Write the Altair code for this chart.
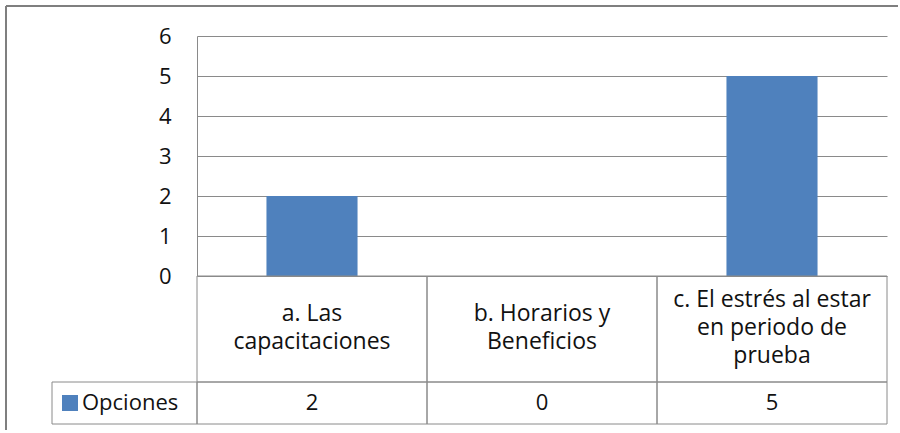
import altair as alt
import pandas as pd

# Chart values
categories = [
    "a. Las\ncapacitaciones",
    "b. Horarios y\nBeneficios",
    "c. El estrés al estar\nen periodo de\nprueba",
]
values = [2, 0, 5]
series_names = ["Opciones"]
y_ticks = [0, 1, 2, 3, 4, 5, 6]

# Styling
FONT = "Open Sans"
TEXT_SIZE = 22
CAT_TEXT_SIZE = 23
LINE_HEIGHT = 28
TEXT_COLOR = "#111111"
BAR_COLOR = "#4F81BD"
LINE_COLOR = "#8A8A8A"
FRAME_COLOR = "#7F7F7F"

# Layout (pixels)
LEFT_W = 145
PLOT_W = 690
PLOT_H = 240
CAT_ROW_H = 106
VAL_ROW_H = 42

df = pd.DataFrame({"category": categories, "value": values})
series_df = pd.DataFrame({"series": series_names})
frame_df = pd.DataFrame({"k": [0]})

bar_x = alt.X(
    "category:N", sort=categories, axis=None,
    scale=alt.Scale(paddingInner=0.604, paddingOuter=0.302),
)
cell_x = alt.X(
    "category:N", sort=categories, axis=None,
    scale=alt.Scale(paddingInner=0, paddingOuter=0),
)

# Outer frame of the chart object
frame_top = alt.Chart(frame_df).mark_rule(color=FRAME_COLOR, strokeWidth=2).encode(
    x=alt.value(-46), x2=alt.value(846), y=alt.value(-30)
)
frame_left = alt.Chart(frame_df).mark_rule(color=FRAME_COLOR, strokeWidth=2).encode(
    x=alt.value(-46), y=alt.value(-30), y2=alt.value(394)
)
corner = alt.layer(frame_top, frame_left).properties(width=LEFT_W, height=PLOT_H)

# Column chart
bars = alt.Chart(df).mark_bar(color=BAR_COLOR).encode(
    x=bar_x,
    y=alt.Y(
        "value:Q",
        scale=alt.Scale(domain=[0, 6], nice=False),
        axis=alt.Axis(
            values=y_ticks, title=None, grid=True, gridColor=LINE_COLOR,
            gridWidth=1, domain=True, domainColor=LINE_COLOR, domainWidth=1,
            ticks=False, labelPadding=26, labelFont=FONT,
            labelFontSize=TEXT_SIZE, labelColor=TEXT_COLOR,
        ),
    ),
).properties(width=PLOT_W, height=PLOT_H)

spacer = alt.Chart(frame_df).mark_text().encode(
    text=alt.value("")
).properties(width=LEFT_W, height=CAT_ROW_H)

# Data table: category row (multi-line labels centred in their cells)
cat_cells = alt.Chart(df).mark_rect(
    fillOpacity=0, stroke=LINE_COLOR, strokeWidth=1
).encode(x=cell_x)
cat_text = alt.Chart(df).transform_calculate(
    lines="split(datum.category, '\\n')",
).transform_calculate(
    shift=f"-(length(datum.lines) - 1) * {LINE_HEIGHT / 2} - 1",
).mark_text(
    font=FONT, fontSize=CAT_TEXT_SIZE, color=TEXT_COLOR, lineHeight=LINE_HEIGHT,
    baseline="middle", align="center",
).encode(
    x=cell_x,
    yOffset=alt.YOffset("shift:Q", scale=None),
    text="lines:N",
)
cat_row = alt.layer(cat_cells, cat_text).properties(width=PLOT_W, height=CAT_ROW_H)

# Data table: legend key cell
key_cell = alt.Chart(series_df).mark_rect(
    fillOpacity=0, stroke=LINE_COLOR, strokeWidth=1
).encode(
    x=alt.X("series:N", axis=None, scale=alt.Scale(paddingInner=0, paddingOuter=0))
)
key_symbol = alt.Chart(series_df).mark_square(
    color=BAR_COLOR, size=256, opacity=1, filled=True
).encode(x=alt.value(18), y=alt.value(VAL_ROW_H / 2))
key_label = alt.Chart(series_df).mark_text(
    font=FONT, fontSize=TEXT_SIZE, color=TEXT_COLOR, align="left",
    baseline="middle",
).encode(x=alt.value(30), y=alt.value(VAL_ROW_H / 2), text="series:N")
key_row = alt.layer(key_cell, key_symbol, key_label).properties(
    width=LEFT_W, height=VAL_ROW_H
)

# Data table: value row
val_cells = alt.Chart(df).mark_rect(
    fillOpacity=0, stroke=LINE_COLOR, strokeWidth=1
).encode(x=cell_x)
val_text = alt.Chart(df).mark_text(
    font=FONT, fontSize=TEXT_SIZE, color=TEXT_COLOR, baseline="middle",
    align="center",
).encode(x=cell_x, text="value:Q")
val_row = alt.layer(val_cells, val_text).properties(width=PLOT_W, height=VAL_ROW_H)

chart = alt.concat(
    corner, bars, spacer, cat_row, key_row, val_row,
    columns=2, spacing=0, bounds="flush",
).properties(
    padding={"left": 5, "top": 5, "right": 0, "bottom": 0},
    background="white",
).configure(font=FONT).configure_view(strokeWidth=0)

chart.save("out.html", embed_options={"renderer": "svg", "actions": False})
